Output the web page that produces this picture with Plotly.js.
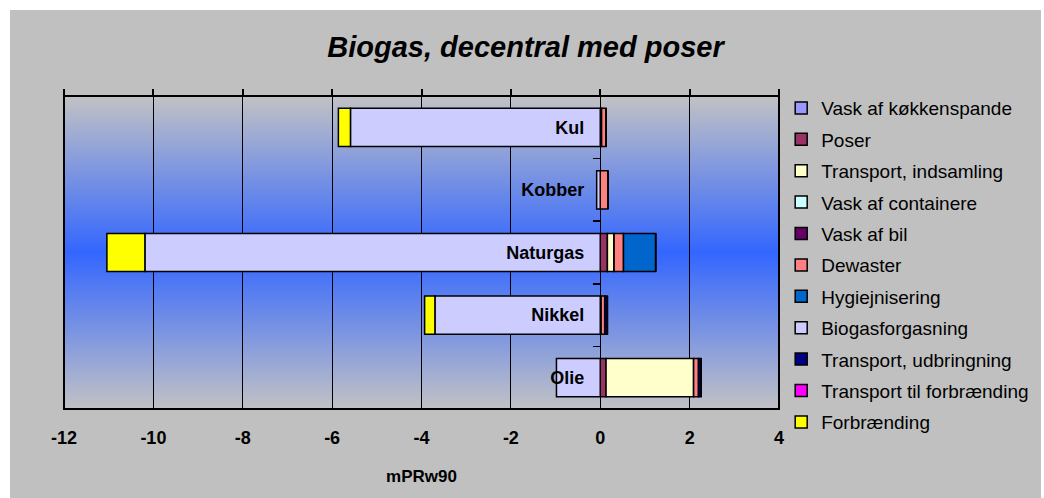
<!DOCTYPE html>
<html>
<head>
<meta charset="utf-8">
<script src="https://cdn.plot.ly/plotly-3.0.1.min.js"></script>
<style>
  html, body { margin: 0; padding: 0; background: #ffffff; }
  #chart { position: absolute; left: 10px; top: 10px; width: 1031px; height: 488px; }
</style>
</head>
<body>
<div id="chart"></div>
<script>
// Categories (top to bottom)
const categories = ["Kul", "Kobber", "Naturgas", "Nikkel", "Olie"];

// Series names (legend order)
const seriesNames = [
  "Vask af køkkenspande", "Poser", "Transport, indsamling", "Vask af containere",
  "Vask af bil", "Dewaster", "Hygiejnisering", "Biogasforgasning",
  "Transport, udbringning", "Transport til forbrænding", "Forbrænding"
];

// Values per series, in category order: Kul, Kobber, Naturgas, Nikkel, Olie
const vaskKokkenspande       = [0, 0, 0, 0, 0];
const poser                  = [0.03, 0, 0.16, 0.02, 0.13];
const transportIndsamling    = [0, 0, 0.15, 0, 1.96];
const vaskContainere         = [0, 0, 0, 0, 0];
const vaskBil                = [0, 0, 0, 0, 0];
const dewaster               = [0.10, 0.17, 0.21, 0.08, 0.11];
const hygiejnisering         = [0, 0, 0.72, 0, 0];
const biogasforgasning       = [-5.59, -0.08, -10.19, -3.70, -0.98];
const transportUdbringning   = [0, 0, 0, 0.06, 0.06];
const transportForbraending  = [0, 0, 0, 0, 0];
const forbraending           = [-0.27, 0, -0.85, -0.23, 0];

const seriesValues = [
  vaskKokkenspande, poser, transportIndsamling, vaskContainere, vaskBil,
  dewaster, hygiejnisering, biogasforgasning, transportUdbringning,
  transportForbraending, forbraending
];

const seriesColors = [
  "#9999FF", "#993366", "#FFFFCC", "#CCFFFF", "#660066",
  "#FF8080", "#0066CC", "#CCCCFF", "#000080", "#FF00FF", "#FFFF00"
];

// X axis ticks
const xTickVals = [-12, -10, -8, -6, -4, -2, 0, 2, 4];

const FONT = "Liberation Sans, Arial, sans-serif";

const traces = seriesNames.map((name, i) => ({
  type: "bar",
  orientation: "h",
  name: name,
  y: categories,
  x: seriesValues[i],
  legendgroup: "g" + i,
  marker: { color: seriesColors[i], line: { color: "#000000", width: 1.5 } },
  hoverinfo: "name+x"
}));

// Empty trace to carry the top tick axis
traces.push({ type: "scatter", x: [], y: [], xaxis: "x2", yaxis: "y", showlegend: false, hoverinfo: "skip" });

const gradSvg = "<svg xmlns='http://www.w3.org/2000/svg' width='10' height='100' viewBox='0 0 10 100' preserveAspectRatio='none'>" +
  "<defs><linearGradient id='g' x1='0' y1='0' x2='0' y2='1'>" +
  "<stop offset='0' stop-color='#C2C2C4'/>" +
  "<stop offset='0.5' stop-color='#3366FF'/>" +
  "<stop offset='1' stop-color='#C2C2C4'/>" +
  "</linearGradient></defs><rect x='0' y='0' width='10' height='100' fill='url(#g)'/></svg>";
const gradUri = "data:image/svg+xml;charset=utf-8," + encodeURIComponent(gradSvg);

const layout = {
  width: 1031,
  height: 488,
  paper_bgcolor: "#C0C0C0",
  plot_bgcolor: "rgba(0,0,0,0)",
  margin: { l: 54, r: 262, t: 86, b: 89, pad: 0, autoexpand: false },
  barmode: "relative",
  bargap: 0.39,
  font: { family: FONT, color: "#000000" },
  title: {
    text: "<b><i>Biogas, decentral med poser</i></b>",
    font: { family: FONT, size: 29, color: "#000000" },
    x: 0.5, xanchor: "center", xref: "container",
    y: 0.924, yanchor: "middle", yref: "container"
  },
  xaxis: {
    range: [-12, 4],
    tickvals: xTickVals,
    ticktext: xTickVals.map(v => "<b>" + v + "</b>"),
    showgrid: true,
    gridcolor: "#000000",
    gridwidth: 1,
    zeroline: true,
    zerolinecolor: "#000000",
    zerolinewidth: 1.5,
    showline: false,
    ticks: "",
    ticklabelstandoff: 16,
    tickfont: { family: FONT, size: 18, color: "#000000" },
    title: {
      text: "<b>mPRw90</b>",
      font: { family: FONT, size: 17, color: "#000000" },
      standoff: 23
    },
    fixedrange: true
  },
  xaxis2: {
    overlaying: "x",
    side: "top",
    anchor: "y",
    range: [-12, 4],
    tickvals: xTickVals,
    showticklabels: false,
    showgrid: false,
    zeroline: false,
    showline: false,
    ticks: "outside",
    ticklen: 6,
    tickwidth: 2,
    tickcolor: "#000000",
    fixedrange: true
  },
  yaxis: {
    type: "category",
    autorange: "reversed",
    anchor: "free",
    position: 0.75,
    showgrid: false,
    zeroline: false,
    showline: false,
    ticks: "outside",
    tickson: "boundaries",
    ticklen: 7,
    tickwidth: 1.5,
    tickcolor: "#000000",
    ticklabelstandoff: 16,
    tickfont: { family: FONT, size: 18, color: "#000000" },
    ticktext: categories.map(c => "<b>" + c + "</b>"),
    tickvals: categories,
    fixedrange: true
  },
  legend: {
    xref: "container", yref: "container",
    x: 0.748, xanchor: "left",
    y: 0.838, yanchor: "top",
    font: { family: FONT, size: 19, color: "#000000" },
    bgcolor: "rgba(0,0,0,0)",
    borderwidth: 0,
    tracegroupgap: 3.7,
    traceorder: "grouped",
    maxheight: 480
  },
  images: [{
    source: gradUri,
    xref: "paper", yref: "paper",
    x: 0, y: 1, sizex: 1, sizey: 1,
    xanchor: "left", yanchor: "top",
    sizing: "stretch",
    layer: "below"
  }],
  shapes: [{
    type: "rect", xref: "paper", yref: "paper",
    x0: 0, x1: 1, y0: 0, y1: 1,
    line: { color: "#000000", width: 2 },
    fillcolor: "rgba(0,0,0,0)",
    layer: "above"
  }],
  showlegend: true
};

Plotly.newPlot("chart", traces, layout, { displayModeBar: false, staticPlot: true });
</script>
</body>
</html>
